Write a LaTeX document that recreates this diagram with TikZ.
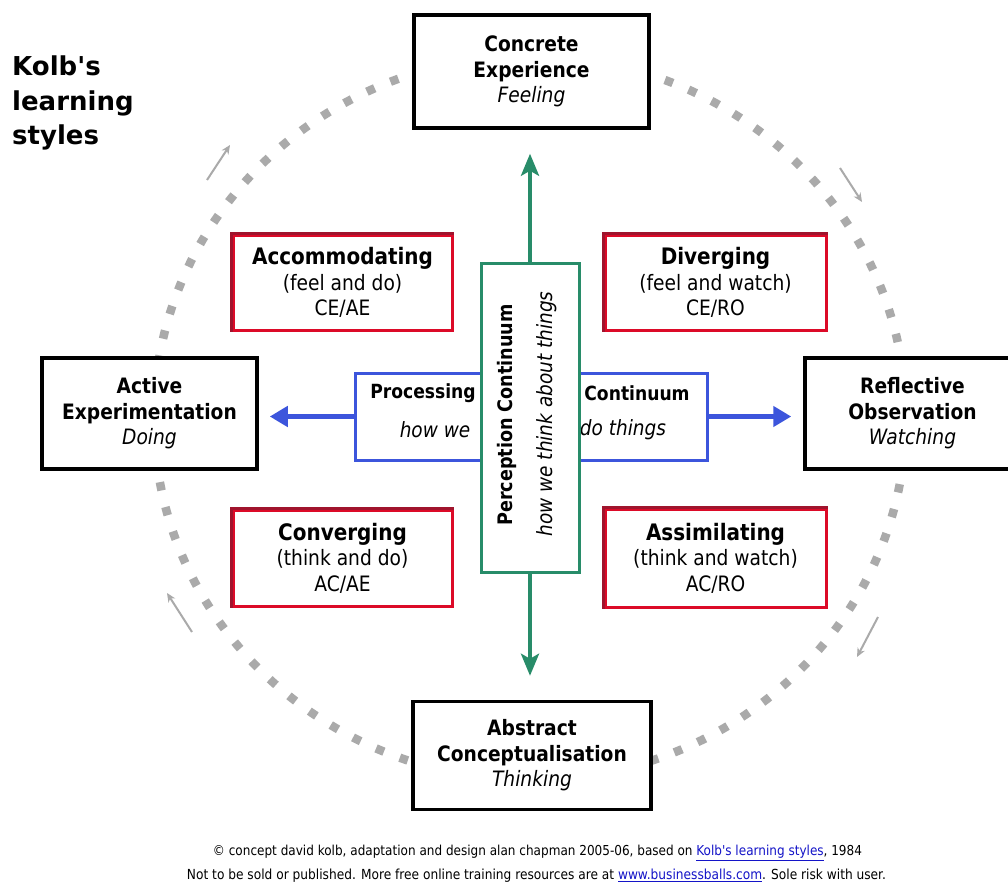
\documentclass[tikz,border=0pt]{standalone}
\usepackage{fontspec}
\setmainfont{DejaVu Sans}[FakeStretch=0.88]
\newfontfamily\titlefont{DejaVu Sans}
\newfontfamily\footfont{DejaVu Sans}[FakeStretch=0.88]
\usetikzlibrary{arrows.meta}
\definecolor{boxred}{RGB}{220,10,40}
\definecolor{boxredd}{RGB}{160,20,45}
\definecolor{pblue}{RGB}{60,85,220}
\definecolor{pgreen}{RGB}{40,140,105}
\definecolor{dotgray}{RGB}{170,170,170}
\definecolor{linkblue}{RGB}{20,20,200}
\newcommand\myttl{\fontsize{22.7}{25.5}\selectfont\bfseries}
\begin{document}
\begin{tikzpicture}[x=1pt,y=-1pt,
  txt/.style={font=\fontsize{21.2}{25.5}\selectfont},
  modebox/.style={draw=black,line width=3.5pt,fill=white,align=center,inner sep=0pt,txt},
  stylebox/.style={draw=boxred,line width=3pt,fill=white,align=center,inner sep=0pt,txt,
     minimum width=219pt,minimum height=95pt},
  proc/.style={inner sep=0pt,font=\fontsize{19.5}{22}\selectfont\bfseries},
  proci/.style={inner sep=0pt,font=\fontsize{21}{24}\selectfont\itshape},
  bluearrow/.style={draw=pblue,line width=5pt,-{Triangle[length=18pt,width=20pt]}},
  greenarrow/.style={draw=pgreen,line width=4pt,-{Stealth[length=22pt,width=18pt,inset=5pt]}},
  cyclearrow/.style={draw=dotgray,line width=2pt,-{Stealth[length=9pt,width=8pt]}},
  foot/.style={inner sep=0pt,font=\footfont\fontsize{12}{14}\selectfont}
]
\useasboundingbox (0,0) rectangle (1008,888);
\clip (0,0) rectangle (1008,888);
\fill[white] (0,0) rectangle (1008,888);

% dotted cycle
\coordinate (cc) at (530,418);
\draw[dotgray,line width=8.5pt,dash pattern=on 8.5pt off 17pt] (cc) ellipse[x radius=376pt,y radius=362pt];

% cycle direction arrows
\coordinate (ta1) at (207,180); \coordinate (ta2) at (230,145);
\coordinate (tb1) at (840,168); \coordinate (tb2) at (862,202);
\coordinate (tc1) at (878,617); \coordinate (tc2) at (857,657);
\coordinate (td1) at (192,632); \coordinate (td2) at (167,593);
\draw[cyclearrow] (ta1) -- (ta2);
\draw[cyclearrow] (tb1) -- (tb2);
\draw[cyclearrow] (tc1) -- (tc2);
\draw[cyclearrow] (td1) -- (td2);

% title
\node[anchor=north west,align=left,inner sep=0pt,font=\titlefont\fontsize{26}{34.5}\selectfont\bfseries] (title) at (12,56)
  {Kolb{\char"27}s\\learning\\styles};

% four modes
\node[modebox,minimum width=235pt,minimum height=113pt] (ce) at (531.5,71.5)
  {\bfseries Concrete\\\bfseries Experience\\\itshape Feeling};
\node[modebox,minimum width=215pt,minimum height=111pt] (ae) at (149.5,413.5)
  {\bfseries Active\\\bfseries Experimentation\\\itshape Doing};
\node[modebox,minimum width=215pt,minimum height=111pt] (ro) at (912.5,413.5)
  {\bfseries Reflective\\\bfseries Observation\\\itshape Watching};
\node[modebox,minimum width=238pt,minimum height=108pt] (ac) at (532,755.5)
  {\bfseries Abstract\\\bfseries Conceptualisation\\\itshape Thinking};

% four styles
\node[stylebox] (acc) at (342.5,282.5) {{\myttl Accommodating}\\(feel and do)\\CE/AE};
\node[stylebox,minimum width=221pt] (div) at (715.5,282.5) {{\myttl Diverging}\\(feel and watch)\\CE/RO};
\node[stylebox,minimum height=96pt] (con) at (342.5,558) {{\myttl Converging}\\(think and do)\\AC/AE};
\node[stylebox,minimum width=221pt,minimum height=98pt] (ass) at (715.5,558) {{\myttl Assimilating}\\(think and watch)\\AC/RO};
\foreach \b in {acc,div,con,ass}{
  \draw[boxredd,line width=3pt] (\b.south west) -- (\b.north west) -- (\b.north east);
}

% processing continuum
\node[draw=pblue,line width=3pt,fill=white,minimum width=352pt,minimum height=87pt,inner sep=0pt] (bb) at (531,416.5) {};
\draw[bluearrow,shorten >=11pt] (bb.west) -- (bb.west -| ae.east);
\draw[bluearrow,shorten >=12pt] (bb.east) -- (bb.east -| ro.west);
\node[proc] (p1) at (423,393) {Processing};
\node[proci] (p2) at (435,430) {how we};
\node[proc] (p3) at (637,393) {Continuum};
\node[proci] (p4) at (623,430) {do things};

% perception continuum
\node[draw=pgreen,line width=3pt,fill=white,minimum width=98pt,minimum height=309pt,inner sep=0pt] (gb) at (530,417.5) {};
\draw[greenarrow,shorten >=24pt] (gb.north) -- (gb.north |- ce.south);
\draw[greenarrow,shorten >=24pt] (gb.south) -- (gb.south |- ac.north);
\node[rotate=90,inner sep=0pt,font=\fontsize{20}{22}\selectfont\bfseries] (g1) at (507,415) {Perception Continuum};
\node[rotate=90,inner sep=0pt,font=\fontsize{21}{24}\selectfont\itshape] (g2) at (547,414) {how we think about things};

% footer
\node[foot] (f1) at (537.5,853) {\resizebox{649pt}{!}{\textcopyright{} concept david kolb, adaptation and design alan chapman 2005-06, based on \textcolor{linkblue}{\underline{Kolb{\char"27}s learning styles}}, 1984}};
\node[foot] (f2) at (536.5,876) {\resizebox{699pt}{!}{Not to be sold or published. More free online training resources are at \textcolor{linkblue}{\underline{www.businessballs.com}}. Sole risk with user.}};
\end{tikzpicture}
\end{document}
